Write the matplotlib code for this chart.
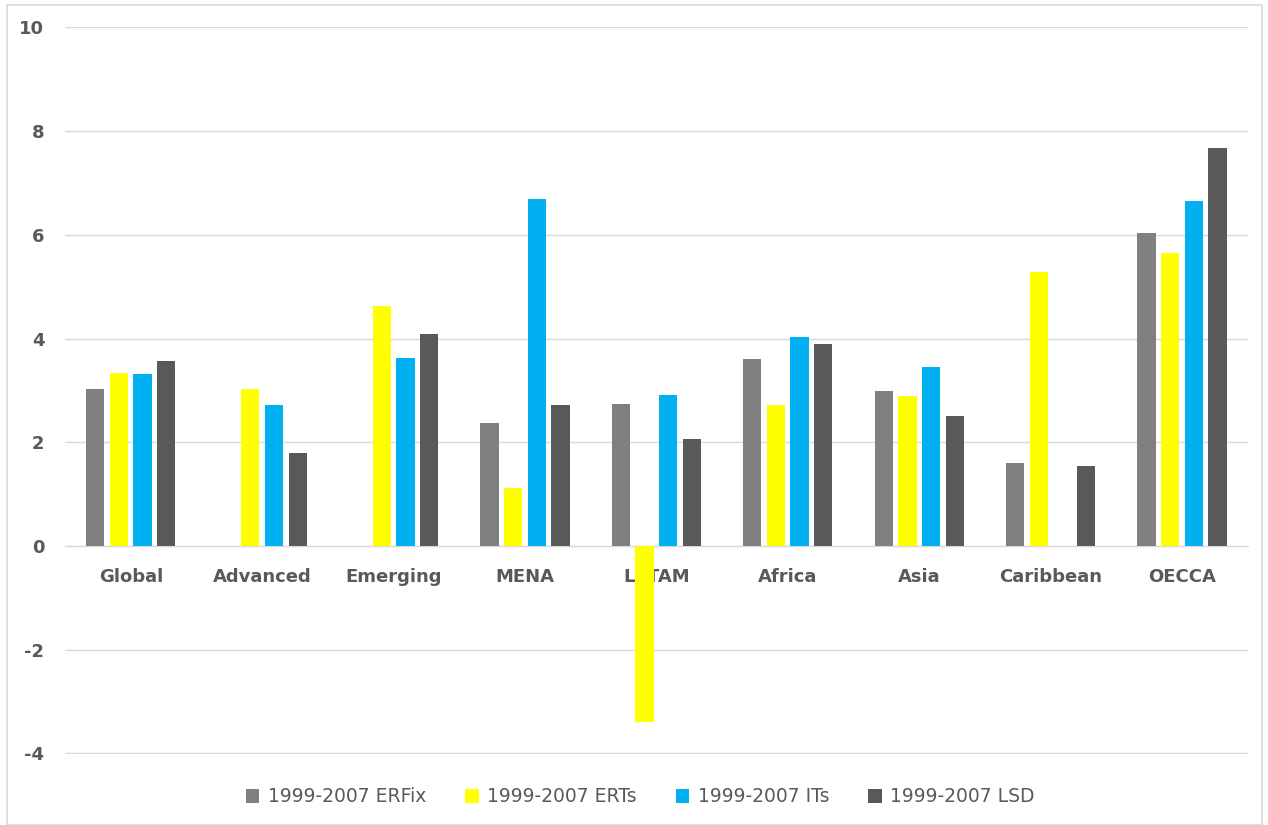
import numpy as np
import matplotlib
matplotlib.use("Agg")
import matplotlib.pyplot as plt
from matplotlib.patches import Rectangle

# Regions and period averages by exchange-rate / monetary regime
regions = ["Global", "Advanced", "Emerging", "MENA", "LATAM", "Africa",
           "Asia", "Caribbean", "OECCA"]
erfix = [3.02, np.nan, np.nan, 2.37, 2.74, 3.61, 2.99, 1.60, 6.04]
erts = [3.34, 3.02, 4.62, 1.12, -3.40, 2.72, 2.90, 5.29, 5.66]
its = [3.32, 2.72, 3.63, 6.69, 2.91, 4.04, 3.46, np.nan, 6.65]
lsd = [3.56, 1.80, 4.09, 2.72, 2.06, 3.90, 2.50, 1.54, 7.68]

series_labels = ["1999-2007 ERFix", "1999-2007 ERTs", "1999-2007 ITs",
                 "1999-2007 LSD"]
series_colors = ["#808080", "#FFFF00", "#00B0F0", "#595959"]
yticks = [-4, -2, 0, 2, 4, 6, 8, 10]

text_color = "#595959"
grid_color = "#D9D9D9"

fig = plt.figure(figsize=(12.68, 8.25), dpi=100)
ax = fig.add_axes([0.0513, 0.0855, 0.9327, 0.8818])

x = np.arange(len(regions))
pitch = 0.180
width = 0.139
handles = []
for i, (vals, lab, col) in enumerate(zip([erfix, erts, its, lsd],
                                         series_labels, series_colors)):
    b = ax.bar(x + (i - 1.5) * pitch, vals, width=width, color=col,
               label=lab, zorder=2)
    handles.append(b)

ax.set_xlim(-0.5, len(regions) - 0.5)
ax.set_ylim(-4.02, 10.01)
ax.set_yticks(yticks)
ax.set_yticklabels([str(t) for t in yticks])
ax.set_xticks(x)
ax.set_xticklabels(regions)

ax.yaxis.grid(True, color=grid_color, linewidth=1.0, zorder=0)
ax.set_axisbelow(True)
for side in ["left", "right", "top"]:
    ax.spines[side].set_visible(False)
ax.spines["bottom"].set_position(("data", 0))
ax.spines["bottom"].set_color(grid_color)
ax.spines["bottom"].set_zorder(1)

ax.tick_params(axis="y", length=0, pad=15, labelsize=13, labelcolor=text_color)
ax.tick_params(axis="x", length=0, pad=16, labelsize=13, labelcolor=text_color)
for t in ax.get_xticklabels() + ax.get_yticklabels():
    t.set_fontweight("bold")
    t.set_zorder(5)

leg = fig.legend(handles=handles, labels=series_labels, loc="center",
                 bbox_to_anchor=(0.505, 1 - 797 / 825), ncol=4, frameon=False,
                 fontsize=13.5, handlelength=0.7, handleheight=0.7,
                 handletextpad=0.45, columnspacing=2.1)
for t in leg.get_texts():
    t.set_color(text_color)

# Thin frame around the chart area
fig.patches.append(Rectangle((7 / 1268, 0), (1262 - 7) / 1268, 1 - 5 / 825,
                             transform=fig.transFigure, fill=False,
                             edgecolor=grid_color, linewidth=1.2))

fig.savefig("out.png", dpi=100, facecolor="white")
